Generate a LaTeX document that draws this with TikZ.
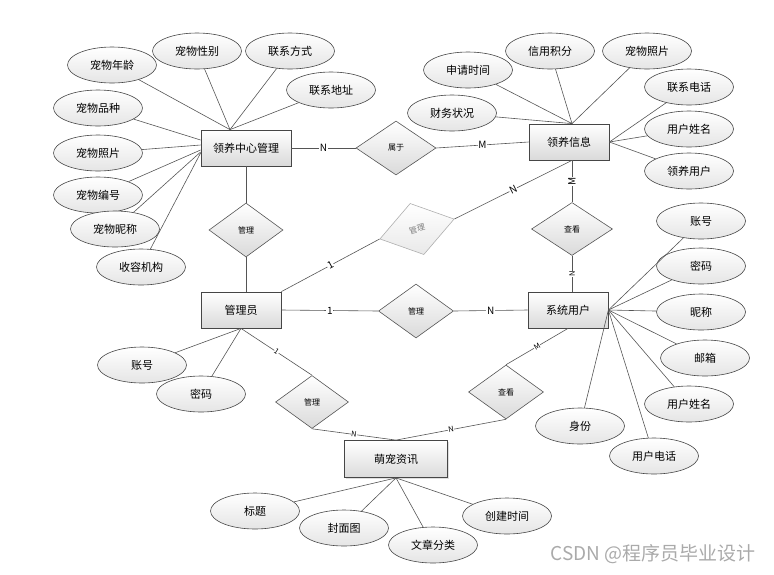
\documentclass[tikz,border=0pt]{standalone}
\usepackage{fontspec}
\setmainfont{Noto Sans CJK SC}
\usepackage{tikz}
\usetikzlibrary{shapes.geometric,shadows}
\definecolor{grisTrait}{RGB}{85,85,85}
\definecolor{grisBord}{RGB}{70,70,70}
\definecolor{grisFond}{RGB}{218,218,218}
\definecolor{grisPale}{RGB}{175,175,175}
\definecolor{grisFiligrane}{RGB}{170,170,170}

\begin{document}
\begin{tikzpicture}[x=1pt,y=-1pt,
  entite/.style={rectangle,draw=grisBord,line width=0.8pt,top color=white,bottom color=grisFond,
                 minimum width=80pt,minimum height=36pt,inner sep=0pt,
                 font=\fontsize{11}{13}\selectfont,
                 drop shadow={shadow xshift=1pt,shadow yshift=-1pt,opacity=0.25}},
  attribut/.style={ellipse,draw=grisBord,line width=0.6pt,top color=white,bottom color=grisFond!70,
                   minimum width=89pt,minimum height=36pt,inner sep=0pt,
                   font=\fontsize{11}{13}\selectfont},
  relation/.style={diamond,draw=grisTrait,line width=0.6pt,top color=white,bottom color=grisFond,
                   minimum width=75pt,minimum height=54pt,inner sep=0pt,
                   font=\fontsize{8}{9}\selectfont},
  lien/.style={draw=grisTrait,line width=0.6pt},
  card/.style={fill=white,inner sep=0.6pt,font=\fontsize{10}{11}\selectfont},
  petite/.style={fill=white,inner sep=0.4pt,font=\fontsize{7.5}{8}\selectfont}]

  \useasboundingbox (0,0) rectangle (774,574);

  % entites
  \node[entite,minimum width=90pt] (LCM) at (246,148) {领养中心管理};
  \node[entite] (LYX) at (569,142) {领养信息};
  \node[entite] (GLY) at (241,310) {管理员};
  \node[entite] (XTY) at (568,310) {系统用户};
  \node[entite,minimum width=103pt,minimum height=37pt] (MCZ) at (396,459) {萌宠资讯};

  % relations
  \node[relation,minimum width=80pt] (SY) at (396,148) {属于};
  \node[relation,minimum width=74pt] (GL1) at (246,230) {管理};
  \node[relation,draw=grisPale,rotate=15,text=gray,minimum width=77pt,minimum height=53pt,
        top color=white,bottom color=grisFond!60] (GL2) at (417,229) {管理};
  \node[relation] (GL3) at (416,311) {管理};
  \node[relation,minimum width=81pt,minimum height=53pt] (CK1) at (572,229) {查看};
  \node[relation] (CK2) at (506,392) {查看};
  \node[relation,minimum width=73pt,minimum height=53pt] (GL4) at (312,402) {管理};

  % attributs du centre
  \node[attribut] (C1) at (112,65) {宠物年龄};
  \node[attribut] (C2) at (197,51) {宠物性别};
  \node[attribut] (C3) at (290,51) {联系方式};
  \node[attribut] (C4) at (331,90) {联系地址};
  \node[attribut] (C5) at (98,108) {宠物品种};
  \node[attribut] (C6) at (98,153) {宠物照片};
  \node[attribut] (C7) at (98,195) {宠物编号};
  \node[attribut] (C8) at (115,229) {宠物昵称};
  \node[attribut] (C9) at (141,267) {收容机构};

  % attributs de l'adoption
  \node[attribut] (L1) at (468,70) {申请时间};
  \node[attribut] (L2) at (550,51) {信用积分};
  \node[attribut] (L3) at (647,51) {宠物照片};
  \node[attribut] (L4) at (689,87) {联系电话};
  \node[attribut] (L5) at (689,129) {用户姓名};
  \node[attribut] (L6) at (689,171) {领养用户};
  \node[attribut] (L7) at (452,113) {财务状况};

  % attributs admin
  \node[attribut] (G1) at (142,365) {账号};
  \node[attribut] (G2) at (201,394) {密码};

  % attributs utilisateur
  \node[attribut] (U1) at (701,221) {账号};
  \node[attribut] (U2) at (701,266) {密码};
  \node[attribut] (U3) at (701,312) {昵称};
  \node[attribut] (U4) at (705,358) {邮箱};
  \node[attribut] (U5) at (689,404) {用户姓名};
  \node[attribut] (U6) at (580,426) {身份};
  \node[attribut] (U7) at (654,456) {用户电话};

  % attributs article
  \node[attribut] (M1) at (255,511) {标题};
  \node[attribut] (M2) at (344,528) {封面图};
  \node[attribut] (M3) at (433,545) {文章分类};
  \node[attribut] (M4) at (507,516) {创建时间};

  % traits des attributs
  \draw[lien] (C1) -- ([xshift=-16pt]LCM.north);
  \draw[lien] (C2) -- ([xshift=-16pt]LCM.north);
  \draw[lien] (C3) -- ([xshift=-16pt]LCM.north);
  \draw[lien] (C4) -- ([xshift=-16pt]LCM.north);
  \draw[lien] (C5) -- ([yshift=8pt]LCM.west);
  \draw[lien] (C6) -- ([yshift=3pt]LCM.west);
  \draw[lien] (C7) -- ([yshift=-2pt]LCM.west);
  \draw[lien] (C8) -- ([yshift=-4pt]LCM.west);
  \draw[lien] (C9) -- ([yshift=-5pt]LCM.west);

  \draw[lien] (L1) -- ([xshift=3pt]LYX.north);
  \draw[lien] (L2) -- ([xshift=3pt]LYX.north);
  \draw[lien] (L3) -- ([xshift=3pt]LYX.north);
  \draw[lien] (L7) -- ([xshift=3pt]LYX.north);
  \draw[lien] (L4) -- (LYX.east);
  \draw[lien] (L5) -- (LYX.east);
  \draw[lien] (L6) -- (LYX.east);

  \draw[lien] (G1) -- (GLY.south);
  \draw[lien] (G2) -- (GLY.south);

  \draw[lien] (U1) -- (XTY.east);
  \draw[lien] (U2) -- (XTY.east);
  \draw[lien] (U3) -- (XTY.east);
  \draw[lien] (U4) -- (XTY.east);
  \draw[lien] (U5) -- (XTY.east);
  \draw[lien] (U6) -- (XTY.east);
  \draw[lien] (U7) -- (XTY.east);

  \draw[lien] (M1) -- (MCZ.south);
  \draw[lien] (M2) -- (MCZ.south);
  \draw[lien] (M3) -- (MCZ.south);
  \draw[lien] (M4) -- (MCZ.south);

  % traits des relations
  \draw[lien] (LCM.east) -- (SY.west) node[card,midway]{N};
  \draw[lien] (SY.east) -- (LYX.west) node[card,midway]{M};
  \draw[lien] (LCM.south) -- (GL1.north);
  \draw[lien] (GL1.south) -- (GL1.south |- GLY.north);
  \draw[lien] (GLY.north east) -- (GL2.west) node[card,midway,sloped]{1};
  \draw[lien] (GL2.east) -- (LYX.south -| CK1.north) node[card,midway,sloped]{N};
  \draw[lien] (GLY.east) -- (GL3.west) node[card,midway]{1};
  \draw[lien] (GL3.east) -- (XTY.west) node[card,midway]{N};
  \draw[lien] (LYX.south -| CK1.north) -- (CK1.north) node[card,midway,rotate=90]{M};
  \draw[lien] (CK1.south) -- (CK1.south |- XTY.north) node[petite,midway,rotate=90]{N};
  \draw[lien] (XTY.south) -- (CK2.north) node[petite,midway,sloped]{M};
  \draw[lien] (CK2.south) -- (MCZ.north) node[petite,midway,sloped]{N};
  \draw[lien] (GLY.south) -- (GL4.north) node[petite,midway,sloped]{1};
  \draw[lien] (GL4.south) -- (MCZ.north) node[petite,midway,sloped]{N};

  % filigrane
  \node[text=grisFiligrane,font=\fontsize{19}{22}\selectfont,anchor=east] (FIL) at (759,554) {CSDN @程序员毕业设计};
\end{tikzpicture}
\end{document}
